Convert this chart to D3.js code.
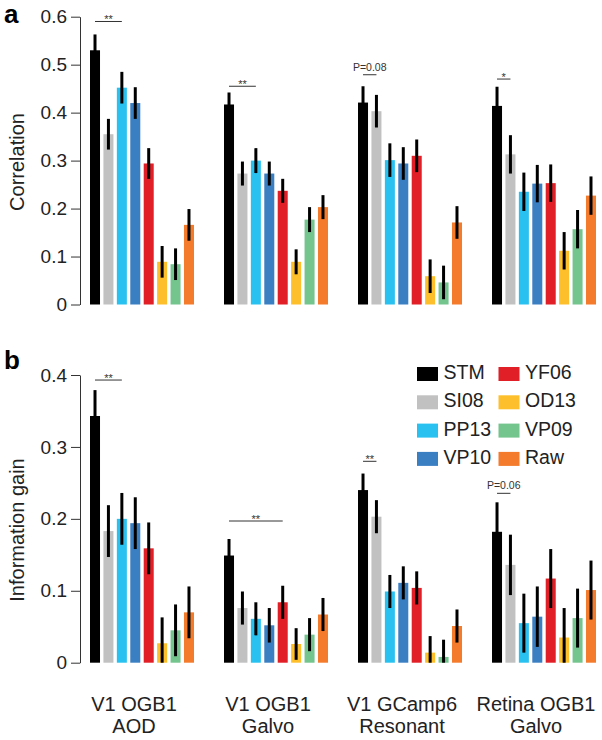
<!DOCTYPE html>
<html>
  <head>
    <meta charset='utf-8' />
    <title>Correlation and information gain</title>
    <script src="https://d3js.org/d3.v7.min.js"></script>
    <style>
body {
  margin: 0;
  font-family: "Liberation Sans", Arial, sans-serif;
  background: white;
}
.axis path,
.axis line {
  stroke: #333;
  stroke-width: 1px;
}
.axis text {
  font-size: 19px;
  fill: #222;
}
.ylabel {
  font-size: 20px;
  fill: #222;
}
.panel {
  font-size: 26px;
  font-weight: bold;
}
.sig {
  fill: #333;
}
    </style>
  </head>
  <body>
    <div id="graphic"></div>
    <script>
      // datasets along the x axis (two text lines each)
      const categories = ["V1 OGB1|AOD", "V1 OGB1|Galvo", "V1 GCamp6|Resonant", "Retina OGB1|Galvo"];
      const series = ["STM", "SI08", "PP13", "VP10", "YF06", "OD13", "VP09", "Raw"];
      const colors = ["#000000", "#c1c1c1", "#29c2f0", "#3b7fc3", "#e01f26", "#fdc02c", "#74c48e", "#f37b2b"];

      // panel a: correlation (one row per dataset, one column per model)
      const corrMean = [
        [0.530, 0.355, 0.452, 0.420, 0.294, 0.089, 0.084, 0.166],
        [0.417, 0.273, 0.300, 0.273, 0.237, 0.089, 0.177, 0.203],
        [0.421, 0.403, 0.301, 0.294, 0.310, 0.059, 0.046, 0.171],
        [0.414, 0.313, 0.235, 0.252, 0.253, 0.112, 0.157, 0.227]
      ];
      const corrErr = [
        [0.033, 0.032, 0.033, 0.033, 0.032, 0.033, 0.033, 0.033],
        [0.025, 0.025, 0.026, 0.025, 0.025, 0.026, 0.026, 0.025],
        [0.034, 0.034, 0.035, 0.034, 0.034, 0.035, 0.035, 0.034],
        [0.040, 0.040, 0.040, 0.039, 0.039, 0.039, 0.040, 0.040]
      ];
      const corrTicks = [0, 0.1, 0.2, 0.3, 0.4, 0.5, 0.6];
      // significance: [dataset, from model, to model, height, label]
      const corrSig = [
        [0, 0, 2, 0.590, "**"],
        [1, 0, 2, 0.455, "**"],
        [2, 0, 1, 0.479, "P=0.08"],
        [3, 0, 1, 0.470, "*"]
      ];

      // panel b: information gain
      const gainMean = [
        [0.343, 0.183, 0.200, 0.194, 0.159, 0.027, 0.045, 0.070],
        [0.149, 0.076, 0.061, 0.052, 0.084, 0.026, 0.039, 0.067],
        [0.240, 0.203, 0.099, 0.111, 0.104, 0.014, 0.008, 0.051],
        [0.182, 0.136, 0.055, 0.064, 0.117, 0.035, 0.062, 0.101]
      ];
      const gainErr = [
        [0.036, 0.036, 0.036, 0.036, 0.036, 0.036, 0.036, 0.036],
        [0.023, 0.023, 0.023, 0.024, 0.023, 0.022, 0.023, 0.023],
        [0.023, 0.023, 0.023, 0.023, 0.023, 0.023, 0.024, 0.023],
        [0.041, 0.042, 0.041, 0.042, 0.041, 0.041, 0.041, 0.041]
      ];
      const gainTicks = [0, 0.1, 0.2, 0.3, 0.4];
      const gainSig = [
        [0, 0, 2, 0.393, "**"],
        [1, 0, 4, 0.197, "**"],
        [2, 0, 1, 0.280, "**"],
        [3, 0, 1, 0.2355, "P=0.06"]
      ];

      const width = 602;
      const height = 740;

      const svg = d3.select("#graphic").append("svg")
        .attr("width", width)
        .attr("height", height);

      // shared x scales
      const x0 = d3.scaleBand()
        .domain(d3.range(categories.length))
        .range([90, 596])
        .paddingInner(0.224)
        .paddingOuter(0);

      const x1 = d3.scaleBand()
        .domain(d3.range(series.length))
        .range([0, x0.bandwidth()])
        .paddingInner(0.254)
        .paddingOuter(0);

      const axisX = 80;

      function drawPanel(opts) {
        const y = d3.scaleLinear()
          .domain([0, d3.max(opts.ticks)])
          .range(opts.yRange);

        const g = svg.append("g");

        // y axis
        g.append("g")
          .attr("class", "axis")
          .attr("transform", "translate(" + axisX + ",0)")
          .call(d3.axisLeft(y)
            .tickValues(opts.ticks)
            .tickSize(9)
            .tickSizeOuter(0)
            .tickPadding(4)
            .tickFormat(d => d === 0 ? "0" : d3.format(".1f")(d)))
          .call(a => a.select(".domain").attr("fill", "none"));

        // y label
        g.append("text")
          .attr("class", "ylabel")
          .attr("transform", "translate(24," + opts.labelY + ") rotate(-90)")
          .attr("text-anchor", "middle")
          .text(opts.label);

        // panel letter
        g.append("text")
          .attr("class", "panel")
          .attr("x", 4)
          .attr("y", opts.letterY)
          .text(opts.letter);

        // bars
        const groups = g.selectAll(".grp")
          .data(opts.mean)
          .join("g")
          .attr("class", "grp")
          .attr("transform", (d, i) => "translate(" + x0(i) + ",0)");

        groups.selectAll("rect")
          .data((d, i) => d.map((v, j) => ({ v: v, e: opts.err[i][j], j: j })))
          .join("rect")
          .attr("x", d => x1(d.j))
          .attr("width", x1.bandwidth())
          .attr("y", d => y(d.v))
          .attr("height", d => y(0) - y(d.v))
          .attr("fill", d => colors[d.j]);

        // error bars
        groups.selectAll("line.err")
          .data((d, i) => d.map((v, j) => ({ v: v, e: opts.err[i][j], j: j })))
          .join("line")
          .attr("class", "err")
          .attr("x1", d => x1(d.j) + x1.bandwidth() / 2)
          .attr("x2", d => x1(d.j) + x1.bandwidth() / 2)
          .attr("y1", d => y(Math.max(0, d.v - d.e)))
          .attr("y2", d => y(d.v + d.e))
          .attr("stroke", "black")
          .attr("stroke-width", 3);

        // significance markers
        const sig = g.selectAll(".sig")
          .data(opts.sig)
          .join("g")
          .attr("class", "sig");

        const cx = (gi, j) => x0(gi) + x1(j) + x1.bandwidth() / 2;

        sig.append("line")
          .attr("x1", d => cx(d[0], d[1]))
          .attr("x2", d => cx(d[0], d[2]))
          .attr("y1", d => y(d[3]))
          .attr("y2", d => y(d[3]))
          .attr("stroke", "#333")
          .attr("stroke-width", 1);

        sig.append("text")
          .attr("x", d => (cx(d[0], d[1]) + cx(d[0], d[2])) / 2)
          .attr("y", d => d[4].startsWith("P") ? y(d[3]) - 4 : y(d[3]) + 2)
          .attr("text-anchor", "middle")
          .attr("font-size", d => d[4].startsWith("P") ? "10.5px" : "11px")
          .text(d => d[4]);

        return y;
      }

      drawPanel({
        mean: corrMean, err: corrErr, ticks: corrTicks, sig: corrSig,
        yRange: [304.5, 16.7], label: "Correlation", labelY: 162,
        letter: "a", letterY: 23
      });

      drawPanel({
        mean: gainMean, err: gainErr, ticks: gainTicks, sig: gainSig,
        yRange: [662.7, 375], label: "Information gain", labelY: 530,
        letter: "b", letterY: 369
      });

      // legend, two columns of four
      const legend = svg.append("g")
        .attr("transform", "translate(417,367)");

      const item = legend.selectAll("g")
        .data(series)
        .join("g")
        .attr("transform", (d, i) => "translate(" + (Math.floor(i / 4) * 81.5) + "," + ((i % 4) * 28.3) + ")");

      item.append("rect")
        .attr("width", 21)
        .attr("height", 14)
        .attr("fill", (d, i) => colors[i]);

      item.append("text")
        .attr("x", 26.5)
        .attr("y", 12)
        .attr("font-size", "19.5px")
        .attr("fill", "#222")
        .text(d => d);

      // dataset labels at the bottom
      const catLabels = svg.append("g")
        .selectAll("text")
        .data(categories)
        .join("text")
        .attr("x", (d, i) => x0(i) + x0.bandwidth() / 2 - 8)
        .attr("y", 711)
        .attr("text-anchor", "middle")
        .attr("font-size", "20px")
        .attr("fill", "#222");

      catLabels.selectAll("tspan")
        .data(d => d.split("|"))
        .join("tspan")
        .attr("x", function () { return d3.select(this.parentNode).attr("x"); })
        .attr("dy", (d, i) => i === 0 ? 0 : 22)
        .text(d => d);
    </script>
  </body>
</html>
